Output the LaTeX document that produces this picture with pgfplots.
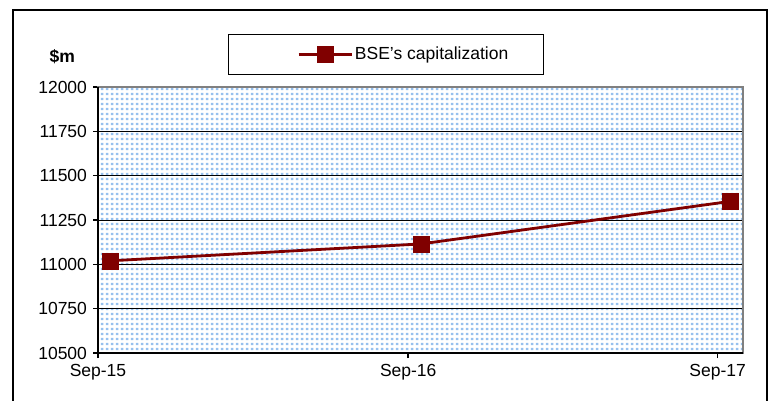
\documentclass[border=0pt]{standalone}
\usepackage{fontspec}
\setmainfont{Liberation Sans}
\usepackage{pgfplots}
\pgfplotsset{compat=1.18}
\usetikzlibrary{patterns}

\definecolor{bsered}{RGB}{128,0,0}
\definecolor{dotblue}{RGB}{150,192,238}

\pgfdeclarepatternformonly{exceldots}{\pgfqpoint{0bp}{0bp}}{\pgfqpoint{5.3bp}{5bp}}{\pgfqpoint{5.3bp}{5bp}}{%
  \pgfpathrectangle{\pgfqpoint{1bp}{1bp}}{\pgfqpoint{2.8bp}{2.6bp}}%
  \pgfusepath{fill}}

\begin{document}
\fontsize{17.5bp}{21bp}\selectfont
\begin{tikzpicture}[x=1bp,y=1bp]
  \path[use as bounding box] (0,0) rectangle (771,400);
  \draw[line width=1.5bp] (13,-10) rectangle (767,390);

  \begin{axis}[
      at={(98bp,47bp)}, anchor=south west,
      scale only axis,
      width=645bp, height=266bp,
      xmin=0, xmax=761,
      ymin=10500, ymax=12000,
      xtick={0,366,731},
      xticklabels={Sep-15,Sep-16,Sep-17},
      ytick={10500,10750,11000,11250,11500,11750,12000},
      scaled y ticks=false,
      yticklabel={\pgfmathprintnumber[fixed,precision=0,1000 sep={}]{\tick}},
      /pgf/number format/assume math mode=true,
      ticklabel style={font=\fontsize{17.5bp}{21bp}\selectfont},
      tick align=outside,
      major tick length=5bp,
      tick style={black, line width=1.5bp},
      xtick pos=bottom, ytick pos=left,
      ymajorgrids,
      major grid style={black, line width=1bp},
      axis line style={draw=gray, line width=2.5bp},
      axis background/.style={fill=white, postaction={pattern=exceldots, pattern color=dotblue}},
      legend style={draw=none, fill=none, at={(0.3085,1.122)}, anchor=west,
        inner sep=0pt, font=\fontsize{17.5bp}{21bp}\selectfont},
      legend image code/.code={%
        \draw[mark repeat=2, mark phase=2, #1] plot coordinates {(0bp,0bp) (26.5bp,0bp) (53bp,0bp)};},
      clip=false,
    ]
    \draw[black, line width=2bp] (rel axis cs:0,1) -- (rel axis cs:0,0) -- (rel axis cs:1,0);
    \addplot[bsered, line width=2.8bp, mark=square*, mark size=8bp,
      mark options={solid, fill=bsered, draw=bsered, line width=0.5bp}]
      coordinates {(15,11020) (381,11115) (746,11355)};
    \addlegendentry{BSE's capitalization}
  \end{axis}

  \draw[line width=1bp] (228,365) rectangle (543,326);
  \node[anchor=east, font=\bfseries\fontsize{17.5bp}{21bp}\selectfont] at (81,343) {\$m};
\end{tikzpicture}
\end{document}
